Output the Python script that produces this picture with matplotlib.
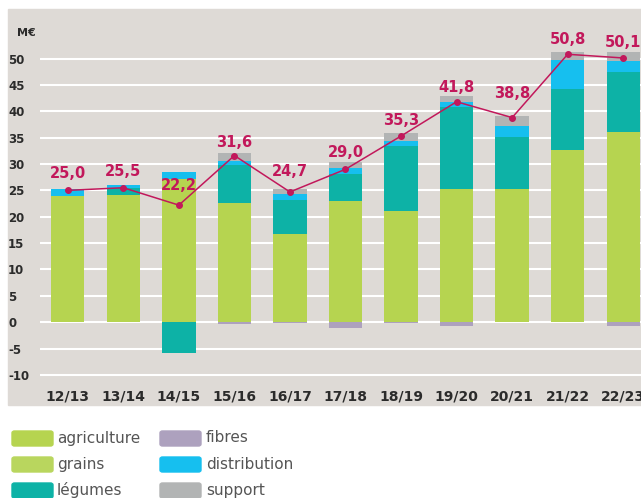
import matplotlib
matplotlib.use("Agg")
import matplotlib.pyplot as plt
import numpy as np
from matplotlib.patches import FancyBboxPatch, Rectangle

campagnes = ["12/13", "13/14", "14/15", "15/16", "16/17", "17/18",
             "18/19", "19/20", "20/21", "21/22", "22/23"]
agriculture = [24.0, 24.1, 27.1, 22.6, 16.7, 23.0, 21.1, 25.3, 25.3, 32.7, 36.1]
grains = [0, 0, 0, 0, 0, 0, 0, 0, 0, 0, 0]
legumes = [0, 1.3, -5.9, 7.2, 6.5, 5.1, 12.3, 15.5, 9.8, 11.5, 11.4]
fibres = [0, 0, 0, -0.4, -0.2, -1.0, -0.2, -0.8, 0, 0, -0.8]
distribution = [1.3, 0.6, 1.4, 0.8, 1.1, 1.1, 1.0, 1.0, 2.1, 5.6, 2.1]
support = [0, 0, 0, 1.5, 1.0, 1.2, 1.5, 1.1, 1.9, 1.5, 1.7]
total = [25.0, 25.5, 22.2, 31.6, 24.7, 29.0, 35.3, 41.8, 38.8, 50.8, 50.1]

BG = "#DEDAD6"
RED = "#C2185B"
series = [
    ("agriculture", agriculture, "#B6D450"),
    ("grains", grains, "#B9D65E"),
    ("légumes", legumes, "#0DB2A6"),
    ("fibres", fibres, "#ADA1BE"),
    ("distribution", distribution, "#16BFEF"),
    ("support", support, "#B2B4B4"),
]

W, H = 641, 498
fig = plt.figure(figsize=(W / 100, H / 100), dpi=100)
bg = Rectangle((8 / W, 1 - 405 / H), (W - 8) / W, (405 - 9) / H,
               transform=fig.transFigure, color=BG, zorder=-10)
fig.add_artist(bg)

ax = fig.add_axes([40 / W, 1 - 385 / H, (W - 40) / W, (385 - 20) / H])
ax.set_facecolor(BG)
ax.patch.set_alpha(0)

x = np.arange(len(campagnes))
pos = np.zeros(len(x))
neg = np.zeros(len(x))
for name, vals, col in series:
    v = np.array(vals, dtype=float)
    bottom = np.where(v >= 0, pos, neg)
    ax.bar(x, v, 0.6, bottom=bottom, color=col, zorder=2, linewidth=0)
    pos = pos + np.where(v > 0, v, 0)
    neg = neg + np.where(v < 0, v, 0)

ax.plot(x, total, color=RED, lw=1.1, marker="o", ms=4, zorder=4)
# label offsets in points (label bottom above the marker)
offsets = [6.5, 6.5, 9, 4, 9, 6.5, 6, 5, 12, 5, 6]
for xi, t, off in zip(x, total, offsets):
    ax.annotate(f"{t:.1f}".replace(".", ","), (xi, t), xytext=(0, off),
                textcoords="offset points", ha="center", va="bottom",
                color=RED, fontsize=10.5, fontweight="bold", zorder=5)

ax.set_ylim(-11.9, 57.3)
ax.set_xlim(-0.5, 10.32)
ax.set_yticks(range(-10, 51, 5))
ax.yaxis.grid(True, color="white", lw=1.5, zorder=1)
ax.set_axisbelow(True)
for s in ax.spines.values():
    s.set_visible(False)
ax.tick_params(length=0)
ax.set_yticklabels([str(v) for v in range(-10, 51, 5)], fontsize=8.5,
                   fontweight="bold", color="#2B2B2B")
for lab in ax.get_yticklabels():
    lab.set_horizontalalignment("left")
ax.yaxis.set_tick_params(pad=23)
ax.set_xticks(x)
ax.set_xticklabels(campagnes, fontsize=10, fontweight="bold", color="#2B2B2B")
ax.xaxis.set_tick_params(pad=3)
fig.text(17 / W, 1 - 33 / H, "M€", fontsize=8, fontweight="bold",
         color="#2B2B2B", va="center")

# legend
cols = [(12, 57), (160, 206)]
rows = [438, 464, 490]
for i, (name, vals, col) in enumerate(series):
    c, r = divmod(i, 3)
    px, tx = cols[c]
    py = rows[r]
    fig.patches.append(FancyBboxPatch((px / W, 1 - (py + 8) / H), 41 / W, 15 / H,
                                      boxstyle="round,pad=0,rounding_size=0.004",
                                      transform=fig.transFigure, color=col))
    fig.text(tx / W, 1 - py / H, name, fontsize=11, color="#555555", va="center")

fig.savefig("out.png", dpi=100)
